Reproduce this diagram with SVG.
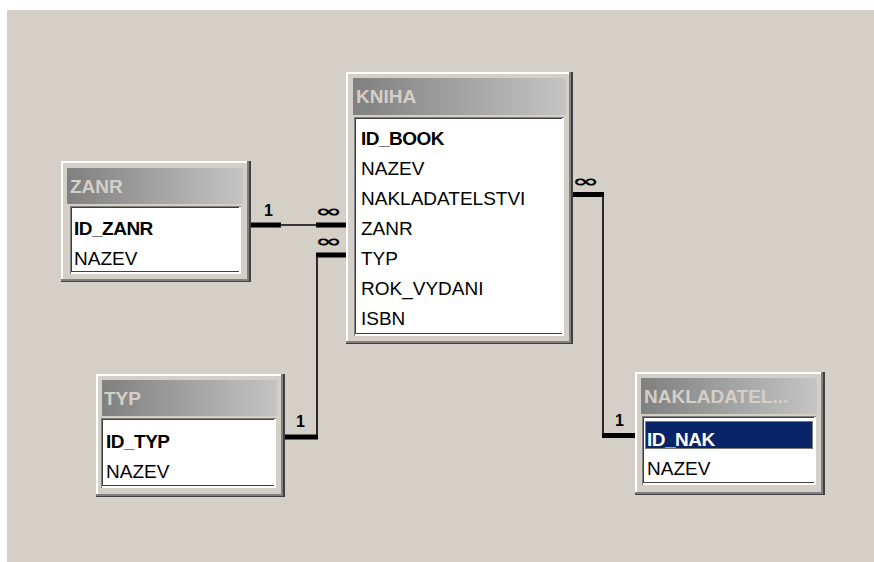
<svg xmlns="http://www.w3.org/2000/svg" width="874" height="562" viewBox="0 0 874 562">
<defs>
<linearGradient id="tg" x1="0" y1="0" x2="1" y2="0">
<stop offset="0" stop-color="#808080"/>
<stop offset="1" stop-color="#c4c4c4"/>
</linearGradient>
<style>
.bg{fill:#d4d0c8}
.frame{fill:#d4d0c8}
.hl{fill:#ffffff}
.dk{fill:#808080}
.dk2{fill:#404040}
.title{fill:url(#tg)}
.ttext{font-family:"Liberation Sans",Arial,sans-serif;font-weight:bold;font-size:19px;fill:#d4d0c8}
.f{font-family:"Liberation Sans",Arial,sans-serif;font-size:19px;fill:#000}
.fb{font-family:"Liberation Sans",Arial,sans-serif;font-size:19px;font-weight:bold;fill:#000;letter-spacing:-0.5px}
.field{fill:#ffffff}
.thick{stroke:#000;stroke-width:5;fill:none}
.thin{stroke:#000;stroke-width:1.6;fill:none}
.card{font-family:"Liberation Sans",Arial,sans-serif;font-weight:bold;font-size:16px;fill:#000}
.inf{font-family:"DejaVu Sans",sans-serif;font-weight:bold;font-size:20px;fill:#000}
</style>
</defs>
<rect x="0" y="0" width="874" height="562" fill="#ffffff"/>
<rect class="bg" x="7" y="10" width="867" height="552"/>

<g id="connectors">
<!-- ZANR - KNIHA -->
<line class="thick" x1="250" y1="225" x2="281" y2="225"/>
<line class="thin" x1="281" y1="225" x2="316" y2="225"/>
<line class="thick" x1="316" y1="225" x2="346" y2="225"/>
<text class="card" x="264" y="216">1</text>
<text class="inf" transform="translate(315,217) scale(1.65,0.85)">∞</text>
<!-- TYP - KNIHA -->
<line class="thick" x1="316" y1="255" x2="346" y2="255"/>
<polyline class="thin" points="317,255 317,437"/>
<line class="thick" x1="285" y1="437" x2="318" y2="437"/>
<text class="inf" transform="translate(315,247) scale(1.65,0.85)">∞</text>
<text class="card" x="296" y="427">1</text>
<!-- KNIHA - NAKLADATELSTVI -->
<text class="inf" transform="translate(572,187) scale(1.65,0.85)">∞</text>
<line class="thick" x1="573" y1="194.5" x2="604" y2="194.5"/>
<polyline class="thin" points="603,194 603,436"/>
<line class="thick" x1="602" y1="435.5" x2="635" y2="435.5"/>
<text class="card" x="615" y="426">1</text>
</g>

<g id="kniha">
<rect class="dk2" x="346" y="72" width="227" height="272"/>
<rect class="dk" x="346" y="72" width="225" height="271"/>
<rect class="hl" x="346" y="72" width="223" height="269"/>
<rect class="frame" x="348" y="74" width="221" height="267"/>
<rect class="title" x="353" y="78" width="213" height="37"/>
<text class="ttext" x="356" y="103">KNIHA</text>
<rect class="dk" x="354" y="117" width="210" height="219"/>
<rect class="hl" x="355" y="118" width="209" height="218"/>
<rect fill="#404040" x="355" y="118" width="207" height="216"/>
<rect class="field" x="356" y="119" width="206" height="214"/>
<text class="fb" x="361" y="145">ID_BOOK</text>
<text class="f" x="361" y="175">NAZEV</text>
<text class="f" x="361" y="205">NAKLADATELSTVI</text>
<text class="f" x="361" y="235">ZANR</text>
<text class="f" x="361" y="265">TYP</text>
<text class="f" x="361" y="295">ROK_VYDANI</text>
<text class="f" x="361" y="325">ISBN</text>
</g>

<g id="zanr">
<rect class="dk2" x="61" y="161" width="190" height="121"/>
<rect class="dk" x="61" y="161" width="188" height="120"/>
<rect class="hl" x="61" y="161" width="186" height="118"/>
<rect class="frame" x="63" y="163" width="184" height="116"/>
<rect class="title" x="67" y="168" width="176" height="36"/>
<text class="ttext" x="70" y="193">ZANR</text>
<rect class="dk" x="70" y="206" width="171" height="68"/>
<rect class="hl" x="71" y="207" width="170" height="67"/>
<rect fill="#404040" x="71" y="207" width="168" height="65"/>
<rect class="field" x="72" y="208" width="167" height="63"/>
<text class="fb" x="74" y="235">ID_ZANR</text>
<text class="f" x="74" y="265">NAZEV</text>
</g>

<g id="typ">
<rect class="dk2" x="96" y="374" width="189" height="123"/>
<rect class="dk" x="96" y="374" width="187" height="122"/>
<rect class="hl" x="96" y="374" width="185" height="120"/>
<rect class="frame" x="98" y="376" width="183" height="118"/>
<rect class="title" x="102" y="380" width="175" height="36"/>
<text class="ttext" x="104" y="405">TYP</text>
<rect class="dk" x="101" y="418" width="175" height="70"/>
<rect class="hl" x="102" y="419" width="174" height="69"/>
<rect fill="#404040" x="102" y="419" width="172" height="67"/>
<rect class="field" x="103" y="420" width="171" height="65"/>
<text class="fb" x="106" y="448">ID_TYP</text>
<text class="f" x="106" y="478">NAZEV</text>
</g>

<g id="nakladatelstvi">
<rect class="dk2" x="635" y="372" width="190" height="123"/>
<rect class="dk" x="635" y="372" width="188" height="122"/>
<rect class="hl" x="635" y="372" width="186" height="120"/>
<rect class="frame" x="637" y="374" width="184" height="118"/>
<rect class="title" x="641" y="378" width="176" height="36"/>
<text class="ttext" x="644" y="403">NAKLADATEL...</text>
<rect class="dk" x="642" y="416" width="174" height="69"/>
<rect class="hl" x="643" y="417" width="173" height="68"/>
<rect fill="#404040" x="643" y="417" width="171" height="66"/>
<rect class="field" x="644" y="418" width="170" height="64"/>
<rect x="645" y="421" width="168" height="28" fill="#0a246a"/>
<rect x="645.5" y="421.5" width="167" height="27" fill="none" stroke="#e6d27a" stroke-width="1" stroke-dasharray="1,1"/>
<text class="fb" x="647" y="446" style="fill:#ffffff">ID_NAK</text>
<text class="f" x="647" y="475">NAZEV</text>
</g>
</svg>
